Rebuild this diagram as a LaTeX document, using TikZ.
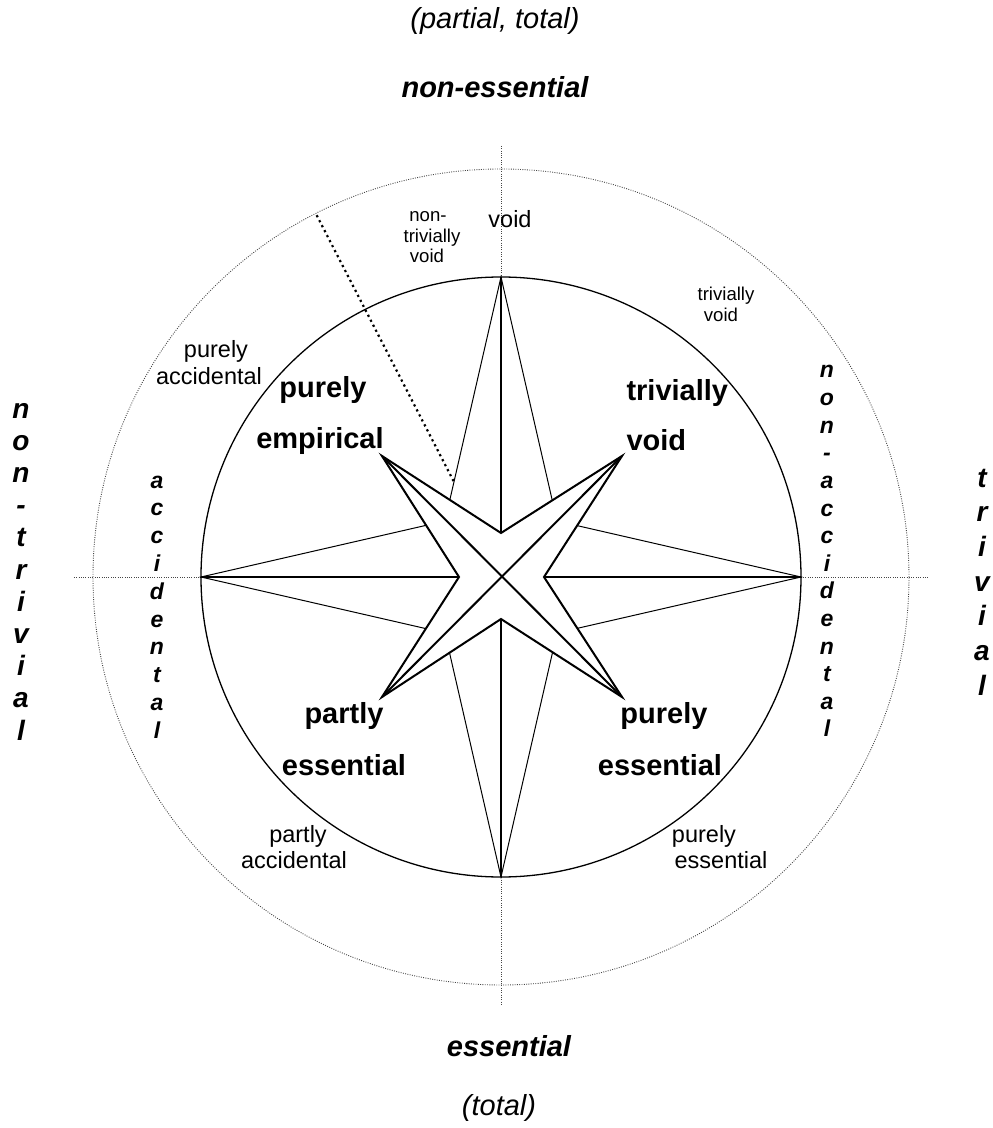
\documentclass[tikz,border=0pt]{standalone}
\usepackage{fontspec}
\setmainfont{Liberation Sans}
\usepackage{tikz}
\definecolor{roseInk}{RGB}{0,0,0}
\definecolor{roseDot}{RGB}{70,70,70}
\tikzset{
  thinrule/.style={draw=roseInk,line width=1pt},
  heavyrule/.style={draw=roseInk,line width=2pt},
  ringrule/.style={draw=roseInk,line width=1.3pt},
  fineDots/.style={draw=roseDot,line width=0.9pt,dash pattern=on 0.9pt off 1.4pt},
  coarseDots/.style={draw=roseInk,line width=2.2pt,dash pattern=on 2.2pt off 3.4pt},
  poleword/.style={anchor=base,font=\fontsize{29}{34}\selectfont\bfseries\itshape},
  polenote/.style={anchor=base,font=\fontsize{29}{34}\selectfont\itshape},
  sideword/.style={anchor=base,font=\fontsize{28}{32}\selectfont\bfseries\itshape},
  rimword/.style={anchor=base,font=\fontsize{23}{27}\selectfont\bfseries\itshape},
  kindname/.style={anchor=base,font=\fontsize{29}{34}\selectfont\bfseries},
  zonename/.style={anchor=base,font=\fontsize{23.5}{27}\selectfont},
  zonesmall/.style={anchor=base,font=\fontsize{18.6}{22}\selectfont}
}

\begin{document}
\begin{tikzpicture}[x=1pt,y=1pt]
  \useasboundingbox (-501,-551) rectangle (492,577);
  % outer dotted ring and axes
  \draw[fineDots] (0,0) circle (408);
  \draw[fineDots] (-427,0) -- (428,0);
  \draw[fineDots] (0,431) -- (0,-428);
  \draw[coarseDots] (117:406) -- (-47,95);
  % inner ring with the four-point rose
  \coordinate (tipN) at (0,300);
  \coordinate (tipE) at (300,0);
  \coordinate (tipS) at (0,-300);
  \coordinate (tipW) at (-300,0);
  \draw[ringrule] (0,0) circle (300);
  \draw[thinrule] (tipN) -- (56,56) -- (tipE) -- (56,-56) -- (tipS) -- (-56,-56) -- (tipW) -- (-56,56) -- cycle;
  \draw[heavyrule] (tipN) -- (tipS);
  \draw[heavyrule] (tipW) -- (tipE);
  % diagonal star on top
  \coordinate (tipNW) at (-119,121);
  \coordinate (tipNE) at (121,121);
  \coordinate (tipSE) at (121,-120);
  \coordinate (tipSW) at (-119,-120);
  \draw[heavyrule,fill=white] (tipNW) -- (0,44) -- (tipNE) -- (43,0) -- (tipSE) -- (0,-42) -- (tipSW) -- (-42,0) -- cycle;
  \draw[heavyrule] (tipNW) -- (tipSE);
  \draw[heavyrule] (tipNE) -- (tipSW);
  % poles
  \node[polenote] (partTot) at (-6,548) {(partial, total)};
  \node[poleword] (nonEss) at (-6,479) {non-essential};
  \node[poleword] (ess) at (8,-479) {essential};
  \node[polenote] (tot) at (-2,-538) {(total)};
  \foreach \ch [count=\k from 0] in {n,o,n,-,t,r,i,v,i,a,l}
    \node[sideword] (nt\k) at (-480,159-32.2*\k) {\ch};
  \foreach \ch [count=\k from 0] in {t,r,i,v,i,a,l}
    \node[sideword] (tr\k) at (481,90-34.7*\k) {\ch};
  \foreach \ch [count=\k from 0] in {a,c,c,i,d,e,n,t,a,l}
    \node[rimword] (ac\k) at (-344,89-27.8*\k) {\ch};
  \foreach \ch [count=\k from 0] in {n,o,n,-,a,c,c,i,d,e,n,t,a,l}
    \node[rimword] (na\k) at (326,199-27.6*\k) {\ch};
  % kinds inside the ring
  \node[kindname] (pe1) at (-178,179) {purely};
  \node[kindname] (pe2) at (-181,129) {empirical};
  \node[kindname,anchor=base west] (tv1) at (122,176) {trivially};
  \node[kindname,anchor=base west] (tv2) at (122,127) {void};
  \node[kindname] (pa1) at (-157,-146) {partly};
  \node[kindname] (pa2) at (-157,-198) {essential};
  \node[kindname] (pu1) at (163,-146) {purely};
  \node[kindname] (pu2) at (159,-198) {essential};
  % zones between the rings
  \node[zonename] (oa1) at (-285,219) {purely};
  \node[zonename] (oa2) at (-292,193) {accidental};
  \node[zonename] (ov) at (9,349) {void};
  \node[zonesmall] (nv1) at (-73,355) {non-};
  \node[zonesmall] (nv2) at (-69,334) {trivially};
  \node[zonesmall] (nv3) at (-74,314) {void};
  \node[zonesmall] (tw1) at (225,276) {trivially};
  \node[zonesmall] (tw2) at (220,255) {void};
  \node[zonename] (op1) at (-203,-265) {partly};
  \node[zonename] (op2) at (-207,-291) {accidental};
  \node[zonename] (oe1) at (203,-265) {purely};
  \node[zonename] (oe2) at (220,-291) {essential};
\end{tikzpicture}
\end{document}
